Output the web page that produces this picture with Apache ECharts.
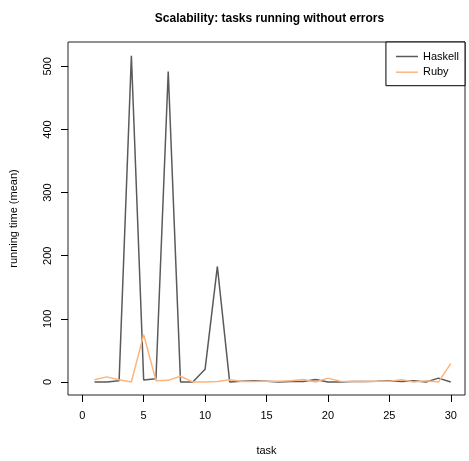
<!DOCTYPE html>
<html>
<head>
<meta charset="utf-8">
<script src="https://cdn.jsdelivr.net/npm/echarts@6/dist/echarts.min.js"></script>
<style>
  html, body { margin: 0; padding: 0; background: #fff; }
  #main { width: 469px; height: 461px; }
</style>
</head>
<body>
<div id="main"></div>
<script>
// task numbers 1..30
var tasks = [1, 2, 3, 4, 5, 6, 7, 8, 9, 10, 11, 12, 13, 14, 15,
             16, 17, 18, 19, 20, 21, 22, 23, 24, 25, 26, 27, 28, 29, 30];
// mean running time per task
var haskell = [0, 0, 2, 517, 3, 5, 492, 0, 0, 20, 183, 0, 1, 2, 1,
               0, 0.5, 0.5, 4, 0, 0, 0.5, 0.5, 1, 2, 0.5, 2, 0, 6, 0];
var ruby = [3.5, 8, 3.5, 0, 75, 2, 2.5, 9, 0, 0, 0.5, 3.5, 0.5, 0.5, 1,
            1, 2, 4, 0, 6, 1, 0.5, 0.5, 1, 1, 3.5, 0, 2, 0, 29];
var xTicks = [0, 5, 10, 15, 20, 25, 30];
var yTicks = [0, 100, 200, 300, 400, 500];

var font = 'Liberation Sans, Arial, Helvetica, sans-serif';
// plain line for legend keys (invisible moves keep the 22x10 box)
var lineIcon = 'path://M0,0 M0,4.25 L22,4.25 L22,5.75 L0,5.75 Z M22,10';

var pairs = function (vals) {
  return tasks.map(function (t, i) { return [t, vals[i]]; });
};

var chart = echarts.init(document.getElementById('main'));
chart.setOption({
  animation: false,
  backgroundColor: '#fff',
  title: {
    text: 'Scalability: tasks running without errors',
    left: 264.5,
    top: 8,
    textAlign: 'center',
    textStyle: { fontFamily: font, fontSize: 12, fontWeight: 'bold', color: '#000' }
  },
  legend: {
    orient: 'vertical',
    right: 4,
    top: 42,
    padding: [9, 6, 8, 10],
    itemWidth: 22,
    itemHeight: 10,
    itemGap: 4.7,
    icon: lineIcon,
    borderColor: '#000',
    borderWidth: 1,
    borderRadius: 0,
    backgroundColor: '#fff',
    textStyle: { fontFamily: font, fontSize: 11, color: '#000' },
    data: ['Haskell', 'Ruby']
  },
  grid: {
    left: 64,
    right: 4,
    top: 42,
    bottom: 59,
    show: true,
    borderColor: '#222',
    borderWidth: 1
  },
  xAxis: {
    type: 'value',
    min: -1.16,
    max: 31.16,
    name: 'task',
    nameLocation: 'middle',
    nameGap: 50,
    nameTextStyle: { fontFamily: font, fontSize: 11, color: '#000' },
    axisLine: { show: false, onZero: false },
    axisTick: { show: true, length: 7, customValues: xTicks, lineStyle: { color: '#000' } },
    axisLabel: { customValues: xTicks, margin: 15, fontFamily: font, fontSize: 11, color: '#000' },
    splitLine: { show: false }
  },
  yAxis: {
    type: 'value',
    min: -20.72,
    max: 538.72,
    name: 'running time (mean)',
    nameLocation: 'middle',
    nameGap: 49,
    nameRotate: 90,
    nameTextStyle: { fontFamily: font, fontSize: 11, color: '#000' },
    axisLine: { show: false, onZero: false },
    axisTick: { show: true, length: 7, customValues: yTicks, lineStyle: { color: '#000' } },
    axisLabel: { customValues: yTicks, rotate: 90, margin: 15, fontFamily: font, fontSize: 11, color: '#000' },
    splitLine: { show: false }
  },
  series: [
    {
      name: 'Haskell',
      type: 'line',
      symbol: 'none',
      data: pairs(haskell),
      color: '#5a5a5a',
      lineStyle: { color: '#5a5a5a', width: 1.5 }
    },
    {
      name: 'Ruby',
      type: 'line',
      symbol: 'none',
      data: pairs(ruby),
      color: '#fdb47c',
      lineStyle: { color: '#fdb47c', width: 1.5 }
    }
  ]
});
</script>
</body>
</html>
